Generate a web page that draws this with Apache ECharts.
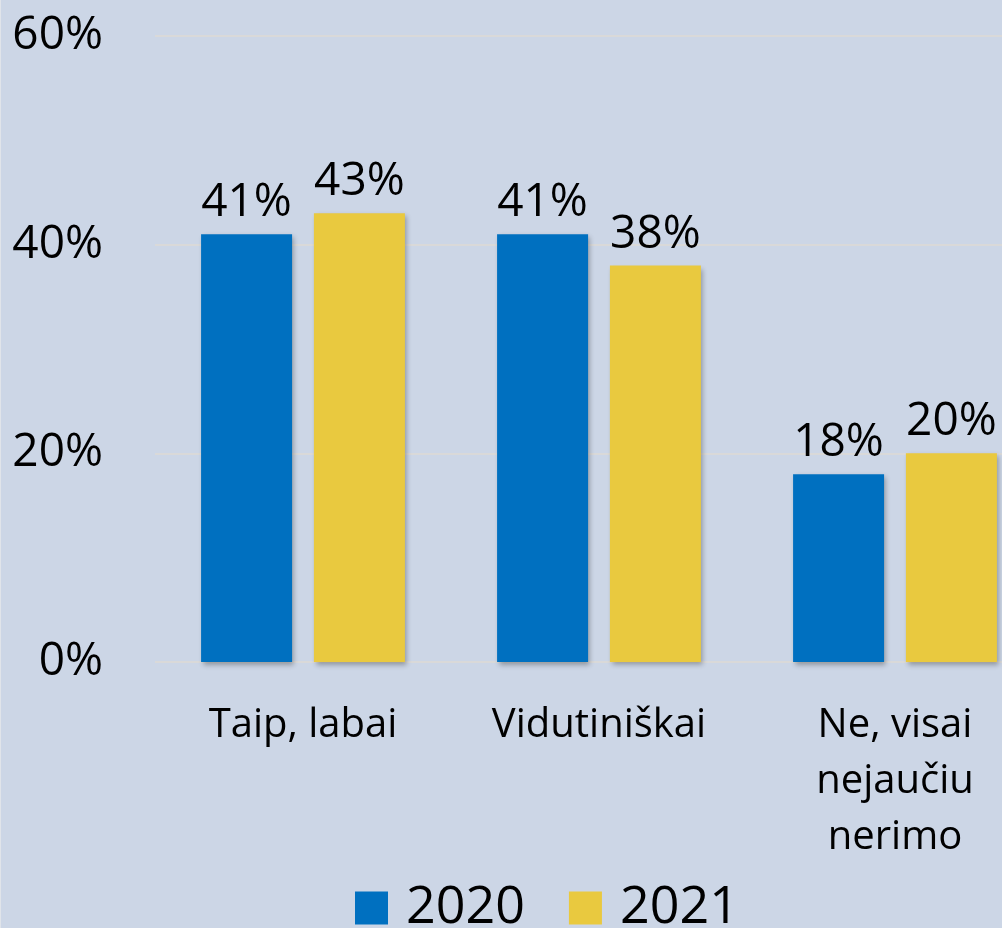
<!DOCTYPE html>
<html>
<head>
<meta charset="utf-8">
<script src="https://cdn.jsdelivr.net/npm/echarts@6/dist/echarts.min.js"></script>
<style>
  html, body { margin: 0; padding: 0; background: #ccd6e6; }
  #wrap { position: relative; width: 1002px; height: 928px; }
  #wrap::after { content: ''; position: absolute; left: 0; top: 0; width: 1px; height: 928px; background: #e0e4ea; }
  #chart { width: 1002px; height: 928px; }
</style>
</head>
<body>
<div id="wrap"><div id="chart"></div></div>
<script>
// chart data
const categories = ['Taip, labai', 'Vidutiniškai', 'Ne, visai\nnejaučiu\nnerimo'];
const seriesNames = ['2020', '2021'];
const values2020 = [41, 41, 18];
const values2021 = [43, 38, 20];
const yTicks = [0, 20, 40, 60];

const colors = ['#0070c0', '#e9c93f'];
const font = 'Open Sans';

const chart = echarts.init(document.getElementById('chart'), null, { renderer: 'canvas' });

function barSeries(name, data, color) {
    return {
        name: name,
        type: 'bar',
        data: data,
        barWidth: 91,
        barGap: '24%',
        itemStyle: {
            color: color,
            shadowColor: 'rgba(0,0,0,0.3)',
            shadowBlur: 5,
            shadowOffsetX: 2,
            shadowOffsetY: 3
        },
        label: {
            show: true,
            position: 'top',
            distance: 8,
            formatter: '{c}%',
            fontFamily: font,
            fontSize: 46,
            color: '#000'
        }
    };
}

chart.setOption({
    backgroundColor: '#ccd6e6',
    animation: false,
    // plot area runs past the right edge, as in the original
    grid: { left: 155, width: 888, top: 36, bottom: 266, outerBoundsMode: 'none', containLabel: false },
    legend: {
        data: seriesNames,
        left: 350,
        top: 877,
        itemWidth: 33,
        itemHeight: 33,
        itemGap: 44,
        icon: 'rect',
        textStyle: { fontFamily: font, fontSize: 52, color: '#000', padding: [0, 0, 0, 13] }
    },
    xAxis: {
        type: 'category',
        data: categories,
        axisLine: { show: false },
        axisTick: { show: false },
        axisLabel: {
            interval: 0,
            margin: 36,
            fontFamily: font,
            fontSize: 40,
            lineHeight: 56,
            color: '#000'
        }
    },
    yAxis: {
        type: 'value',
        min: yTicks[0],
        max: yTicks[yTicks.length - 1],
        interval: 20,
        axisLine: { show: false },
        axisTick: { show: false },
        splitLine: { lineStyle: { color: '#d9d9d9', width: 2 } },
        axisLabel: {
            formatter: '{value}%',
            margin: 52,
            fontFamily: font,
            fontSize: 46,
            color: '#000'
        }
    },
    series: [
        barSeries(seriesNames[0], values2020, colors[0]),
        barSeries(seriesNames[1], values2021, colors[1])
    ]
});
</script>
</body>
</html>
